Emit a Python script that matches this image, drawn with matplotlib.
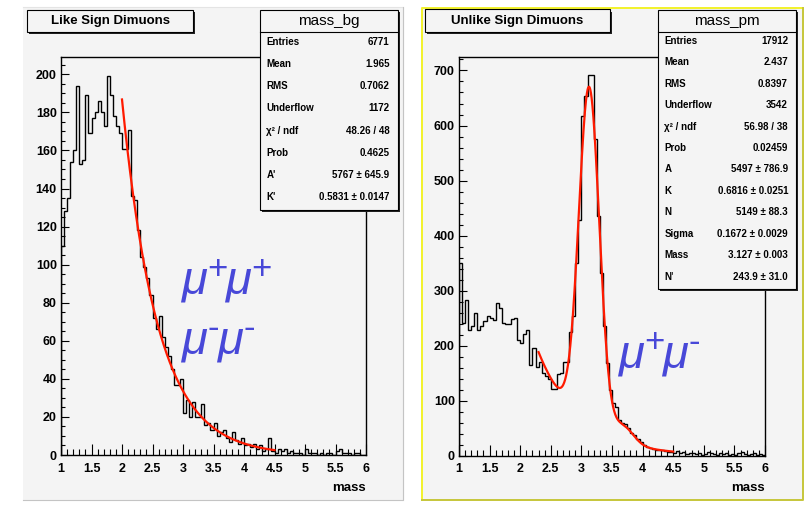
import numpy as np
import matplotlib
matplotlib.use('Agg')
import matplotlib.pyplot as plt
from matplotlib.patches import Rectangle
from matplotlib.lines import Line2D
from matplotlib.ticker import MultipleLocator, FixedLocator, FixedFormatter

plt.rcParams['font.family'] = ['Liberation Sans', 'DejaVu Sans']

# ---------------- data ----------------
mass_range = (1.0, 6.0)
n_bins = 100

like_counts = [110, 128, 135, 154, 160, 194, 153, 155, 189, 169,
               177, 180, 186, 180, 173, 199, 189, 178, 173, 169,
               161, 161, 171, 136, 134, 118, 104, 99, 93, 84,
               72, 66, 73, 62, 57, 52, 45, 37, 37, 40,
               22, 29, 20, 28, 20, 20, 27, 16, 17, 13,
               17, 10, 12, 13, 9, 7, 12, 8, 6, 9,
               5, 6, 4, 6, 3, 5, 2, 3, 9, 2,
               1, 3, 2, 3, 1, 2, 1, 1, 1, 0,
               3, 1, 1, 1, 0, 1, 0, 1, 1, 0,
               2, 3, 1, 1, 1, 0, 1, 1, 0, 0]

unlike_counts = [350, 241, 283, 228, 235, 260, 229, 235, 245, 254,
                 250, 247, 277, 268, 241, 240, 240, 248, 250, 210,
                 205, 222, 229, 165, 195, 162, 170, 150, 145, 140,
                 122, 122, 148, 150, 171, 170, 224, 254, 350, 429,
                 618, 653, 691, 691, 576, 435, 332, 235, 168, 120,
                 96, 88, 65, 60, 57, 50, 42, 38, 30, 24,
                 20, 16, 14, 13, 11, 10, 10, 8, 7, 6,
                 5, 8, 4, 6, 3, 5, 4, 3, 5, 2,
                 3, 7, 4, 3, 2, 4, 3, 5, 2, 3,
                 2, 4, 6, 3, 2, 3, 5, 2, 3, 1]

# fit parameters (as shown in the stats boxes)
bg_A, bg_K = 5767.0, 0.5831          # like sign: A' exp(-m/K')
fit_like_range = (2.0, 4.5)
pm_A, pm_K = 5497.0, 0.6816
pm_N, pm_sigma, pm_mass = 5149.0, 0.1672, 3.127
pm_N2, psi2s_mass = 243.9, 3.686
fit_unlike_range = (2.3, 4.5)

left_title = 'Like Sign Dimuons'
right_title = 'Unlike Sign Dimuons'
left_stat_name = 'mass_bg'
right_stat_name = 'mass_pm'
left_stat_labels = ['Entries', 'Mean', 'RMS', 'Underflow', 'χ² / ndf', 'Prob', "A'", "K'"]
left_stat_values = ['6771', '1.965', '0.7062', '1172', '48.26 / 48', '0.4625',
                    '5767 ± 645.9', '0.5831 ± 0.0147']
right_stat_labels = ['Entries', 'Mean', 'RMS', 'Underflow', 'χ² / ndf', 'Prob',
                     'A', 'K', 'N', 'Sigma', 'Mass', "N'"]
right_stat_values = ['17912', '2.437', '0.8397', '3542', '56.98 / 38', '0.02459',
                     '5497 ± 786.9', '0.6816 ± 0.0251', '5149 ± 88.3',
                     '0.1672 ± 0.0029', '3.127 ± 0.003', '243.9 ± 31.0']
x_ticks = [1, 1.5, 2, 2.5, 3, 3.5, 4, 4.5, 5, 5.5, 6]
x_tick_labels = ['1', '1.5', '2', '2.5', '3', '3.5', '4', '4.5', '5', '5.5', '6']
left_y_ticks = [0, 20, 40, 60, 80, 100, 120, 140, 160, 180, 200]
right_y_ticks = [0, 100, 200, 300, 400, 500, 600, 700]
label_like_1 = ['+', '+']
label_like_2 = ['-', '-']
label_unlike = ['+', '-']

# ---------------- figure ----------------
W, H = 806, 505
fig = plt.figure(figsize=(W / 100, H / 100), dpi=100)
fig.patch.set_facecolor('white')
renderer = fig.canvas.get_renderer()

PAD = '#f4f4f4'
BLUE = '#4848d8'


def fx(px):
    return px / W


def fy(py):
    return 1 - py / H


def rect_px(x0, y0, x1, y1, **kw):
    r = Rectangle((fx(x0), fy(y1)), (x1 - x0) / W, (y1 - y0) / H,
                  transform=fig.transFigure, **kw)
    fig.add_artist(r)
    return r


def line_px(xs, ys, **kw):
    fig.add_artist(Line2D([fx(v) for v in xs], [fy(v) for v in ys],
                          transform=fig.transFigure, **kw))


# pads
rect_px(23, 7, 403, 500, facecolor=PAD, edgecolor='none', zorder=0)
line_px([23, 403, 403], [7, 7, 500], color='#e4e4e4', lw=0.8, zorder=0.5)
line_px([403, 403, 23], [7, 500, 500], color='#c4c4c4', lw=0.8, zorder=0.5)
rect_px(421, 7, 803, 500, facecolor=PAD, edgecolor='none', zorder=0)
line_px([421.5, 421.5, 802.5], [500, 7.5, 7.5], color='#f2f22a', lw=1.4, zorder=0.5)
line_px([802.5, 802.5, 421.5], [7.5, 500, 500], color='#c6c63a', lw=1.4, zorder=0.5)

edges = np.linspace(mass_range[0], mass_range[1], n_bins + 1)


def setup_axes(px0, px1, py0, py1, ymax, yticks, yminor):
    ax = fig.add_axes([fx(px0), fy(py1), (px1 - px0) / W, (py1 - py0) / H])
    ax.set_facecolor(PAD)
    ax.set_xlim(*mass_range)
    ax.set_ylim(0, ymax)
    for s in ax.spines.values():
        s.set_color('black')
        s.set_linewidth(1.0)
    ax.xaxis.set_major_locator(FixedLocator(x_ticks))
    ax.xaxis.set_major_formatter(FixedFormatter(x_tick_labels))
    ax.xaxis.set_minor_locator(MultipleLocator(0.1))
    ax.yaxis.set_major_locator(FixedLocator(yticks))
    ax.yaxis.set_minor_locator(MultipleLocator(yminor))
    ax.tick_params(axis='x', which='major', direction='in', length=7.7, width=0.8,
                   pad=5.5, labelsize=9)
    ax.tick_params(axis='x', which='minor', direction='in', length=4, width=0.8)
    ax.tick_params(axis='y', which='major', direction='in', length=6, width=0.8,
                   pad=3, labelsize=9)
    ax.tick_params(axis='y', which='minor', direction='in', length=3, width=0.8)
    for lab in ax.get_xticklabels() + ax.get_yticklabels():
        lab.set_fontweight('bold')
    return ax


axL = setup_axes(61, 366, 57, 455, 209.1, left_y_ticks, 5)
axR = setup_axes(459, 765, 57, 455.7, 724.5, right_y_ticks, 20)

axL.stairs(like_counts, edges, color='black', lw=1.0, zorder=3)
axR.stairs(unlike_counts, edges, color='black', lw=1.0, zorder=3)

# fit curves
bw = edges[1] - edges[0]
mL = np.linspace(fit_like_range[0], fit_like_range[1], 400)
axL.plot(mL, bg_A * np.exp(-mL / bg_K), color='#ff1a00', lw=1.6, zorder=4)

mR = np.linspace(fit_unlike_range[0], fit_unlike_range[1], 600)
gnorm = bw / (np.sqrt(2 * np.pi) * pm_sigma)
fR = (pm_A * np.exp(-mR / pm_K)
      + pm_N * gnorm * np.exp(-0.5 * ((mR - pm_mass) / pm_sigma) ** 2)
      + pm_N2 * gnorm * np.exp(-0.5 * ((mR - psi2s_mass) / pm_sigma) ** 2))
axR.plot(mR, fR, color='#ff1a00', lw=1.6, zorder=4)

# axis labels
fig.text(fx(366), fy(488), 'mass', ha='right', va='center', fontsize=9.5, fontweight='bold')
fig.text(fx(765), fy(488), 'mass', ha='right', va='center', fontsize=9.5, fontweight='bold')


def title_box(x0, y0, x1, y1, text):
    rect_px(x0 + 2, y0 + 2, x1 + 2, y1 + 2, facecolor='#222222', edgecolor='none', zorder=5)
    rect_px(x0, y0, x1, y1, facecolor=PAD, edgecolor='black', lw=0.8, zorder=6)
    fig.text(fx((x0 + x1) / 2), fy((y0 + y1) / 2 + 0.5), text, ha='center', va='center',
             fontsize=9.5, fontweight='bold', zorder=7)


title_box(27, 10, 193, 31.5, left_title)
title_box(425, 9.5, 610, 31.5, right_title)


def stats_box(x0, y0, x1, y1, name, labels, values, first_row, spacing):
    rect_px(x0 + 2, y0 + 2, x1 + 2, y1 + 2, facecolor='#222222', edgecolor='none', zorder=5)
    rect_px(x0, y0, x1, y1, facecolor=PAD, edgecolor='black', lw=0.8, zorder=6)
    line_px([x0, x1], [31.7, 31.7], color='black', lw=0.8, zorder=7)
    fig.text(fx((x0 + x1) / 2), fy(21), name, ha='center', va='center',
             fontsize=11, zorder=7)
    for i, (lab, val) in enumerate(zip(labels, values)):
        yy = first_row + i * spacing
        fig.text(fx(x0 + 7), fy(yy), lab, ha='left', va='center', fontsize=7,
                 fontweight='bold', zorder=7)
        fig.text(fx(x1 - 8), fy(yy), val, ha='right', va='center', fontsize=7,
                 fontweight='bold', zorder=7)


stats_box(259.5, 10, 397.5, 210, left_stat_name, left_stat_labels, left_stat_values,
          41.7, 22.2)
stats_box(657.5, 9.5, 796, 288.5, right_stat_name, right_stat_labels, right_stat_values,
          40.7, 21.45)


# particle labels: mu with small raised charge signs
def mu_label(x_px, base_px, signs, fs=34, fs_sup=25, rise=15):
    cur = x_px
    for s in signs:
        t = fig.text(fx(cur), fy(base_px), 'μ', ha='left', va='baseline',
                     fontsize=fs, style='italic', color=BLUE, zorder=8)
        cur += t.get_window_extent(renderer).width * 0.98
        t2 = fig.text(fx(cur), fy(base_px - rise), s, ha='left', va='baseline',
                      fontsize=fs_sup, color=BLUE, zorder=8)
        cur += t2.get_window_extent(renderer).width * 0.92


mu_label(182, 294, label_like_1)
mu_label(182, 353, label_like_2)
mu_label(619, 367, label_unlike)

fig.savefig('out.png', dpi=100, facecolor='white')
